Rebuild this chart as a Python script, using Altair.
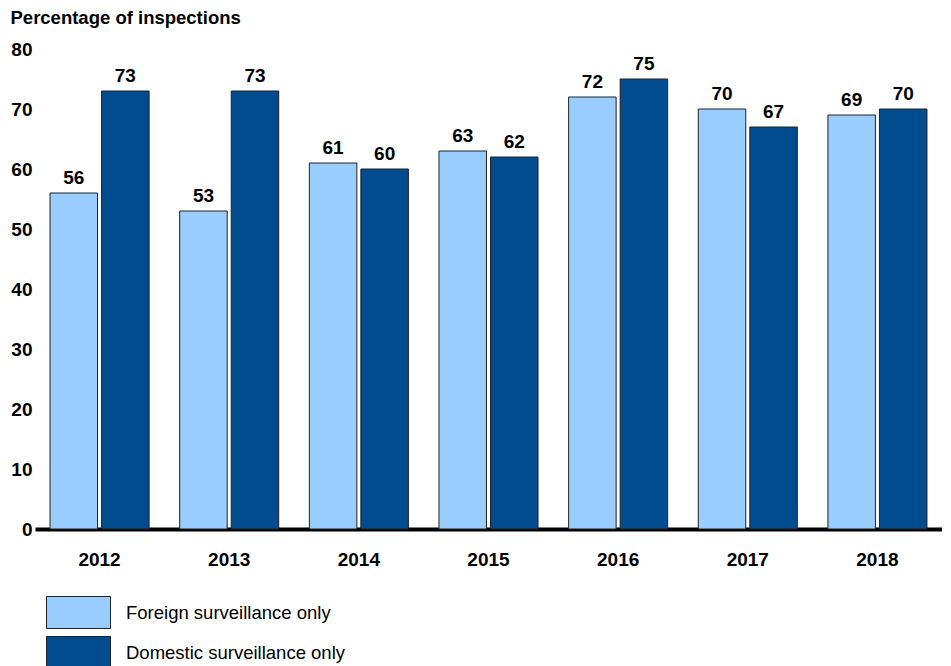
import altair as alt
import pandas as pd

years = ["2012", "2013", "2014", "2015", "2016", "2017", "2018"]
foreign = [56, 53, 61, 63, 72, 70, 69]
domestic = [73, 73, 60, 62, 75, 67, 70]
series = ["Foreign surveillance only", "Domestic surveillance only"]
colors = ["#99CCFF", "#004C8F"]

rows = []
for i, y in enumerate(years):
    rows.append({"year": y, "series": series[0], "value": foreign[i]})
    rows.append({"year": y, "series": series[1], "value": domestic[i]})
df = pd.DataFrame(rows)

FONT = "Liberation Sans"

x = alt.X("year:N", sort=years,
          scale=alt.Scale(paddingInner=0.236, paddingOuter=0.116),
          axis=alt.Axis(title=None, labelAngle=0, labelFont=FONT, labelFontSize=19,
                        labelFontWeight="bold", labelColor="black", ticks=False,
                        labelPadding=21, domainColor="black", domainWidth=4))
xo = alt.XOffset("series:N", sort=series,
                 scale=alt.Scale(paddingInner=0.078, paddingOuter=0))
y = alt.Y("value:Q", scale=alt.Scale(domain=[0, 80]),
          axis=alt.Axis(values=[0, 10, 20, 30, 40, 50, 60, 70, 80], grid=False, domain=False,
                        ticks=False, labelFont=FONT, labelFontSize=19, labelFontWeight="bold",
                        labelColor="black", labelPadding=3,
                        title="Percentage of inspections", titleAngle=0, titleAlign="left",
                        titleBaseline="alphabetic", titleX=-25, titleY=-26, titleFont=FONT,
                        titleFontSize=18.5, titleFontWeight="bold", titleColor="black"))

bars = alt.Chart(df).mark_bar(stroke="#222222", strokeWidth=1).encode(
    x=x, xOffset=xo, y=y,
    color=alt.Color("series:N", sort=series,
                    scale=alt.Scale(domain=series, range=colors),
                    legend=alt.Legend(title=None, orient="none", legendX=27, legendY=547,
                                      direction="vertical", padding=0,
                                      symbolType="M-2,-1L2,-1L2,1L-2,1Z",
                                      symbolSize=1024, symbolStrokeColor="#222222",
                                      symbolStrokeWidth=1, symbolOpacity=1,
                                      labelFont=FONT, labelFontSize=18.5, labelColor="black",
                                      labelOffset=31, rowPadding=3, labelLimit=400)),
)

labels = alt.Chart(df).mark_text(font=FONT, fontSize=19, fontWeight="bold", color="black",
                                 baseline="alphabetic", dy=-9).encode(
    x=alt.X("year:N", sort=years), xOffset=alt.XOffset("series:N", sort=series),
    y="value:Q", text="value:Q")

chart = alt.layer(bars, labels).properties(
    width=907, height=480,
    autosize=alt.AutoSizeParams(type="none"),
    padding={"left": 27, "top": 41, "right": 0, "bottom": 137},
).configure_view(stroke=None)

chart.save("out.html", embed_options={"renderer": "svg", "actions": False})
